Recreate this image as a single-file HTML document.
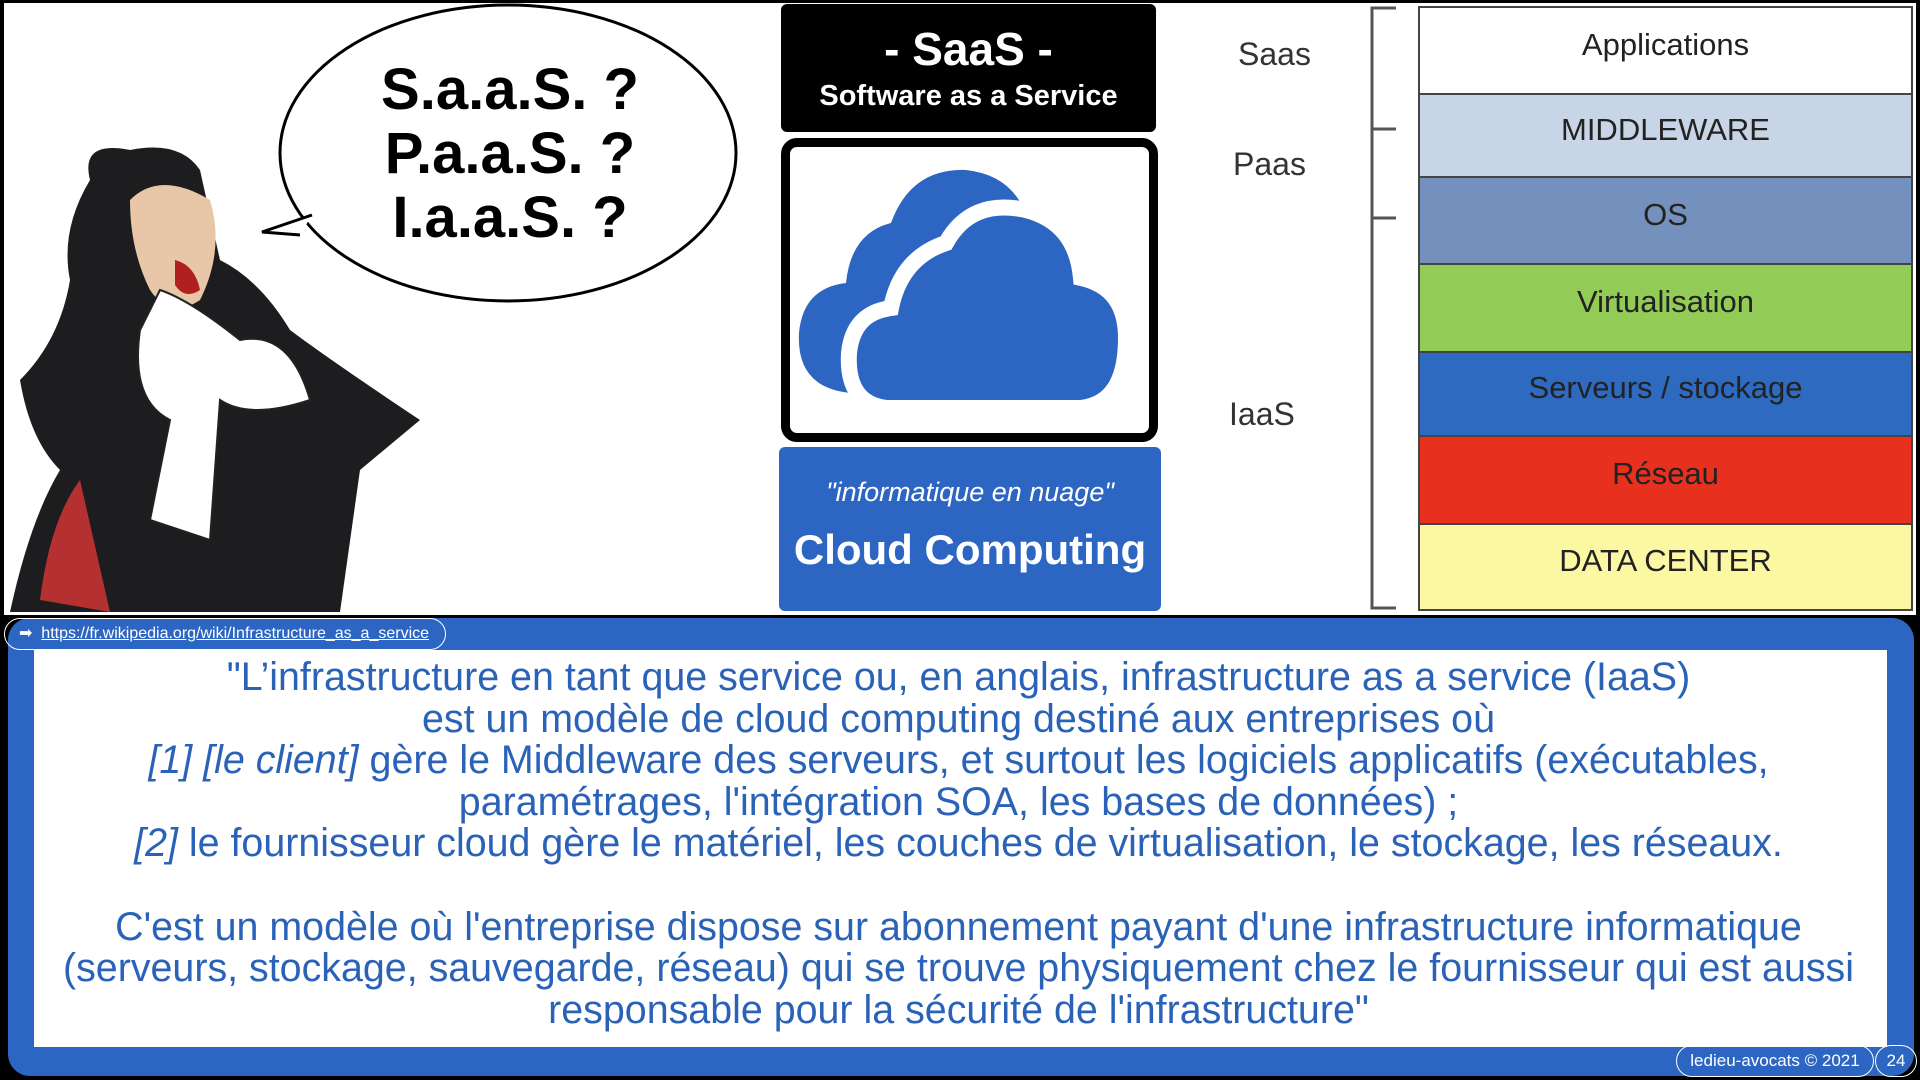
<!DOCTYPE html>
<html><head><meta charset="utf-8"><style>
body{margin:0;width:1920px;height:1080px;overflow:hidden;background:#000;font-family:"Liberation Sans",sans-serif;position:relative}
.a{position:absolute}
.row{position:absolute;left:1418px;width:495px;border:2px solid #444;box-sizing:border-box;font-size:31px;color:#222;display:flex;align-items:center;justify-content:center;white-space:nowrap}
.row span{position:relative;top:-6px}
.lab{position:absolute;font-size:32px;color:#333}
.txt{position:absolute;left:30px;width:1857px;top:657px;text-align:center;color:#2a62b8;font-size:39.4px;line-height:41.6px;white-space:nowrap}
</style></head><body>
<div class="a" style="left:4px;top:3px;width:1912px;height:612px;background:#fff"></div>
<svg class="a" style="left:0;top:0" width="780" height="615">
<ellipse cx="508" cy="153" rx="228" ry="148" fill="#fff" stroke="#000" stroke-width="3"/>
<path d="M300 235 L262 232 L312 215" fill="#fff" stroke="#000" stroke-width="3"/>
<path d="M90 180 Q80 140 130 150 Q180 140 200 170 L220 260 Q260 280 290 330 Q330 360 420 420 L360 470 L340 612 L10 612 Q30 520 60 470 Q30 440 20 380 Q60 340 70 280 Q60 230 90 180Z" fill="#1d1d1f"/>
<path d="M130 200 Q160 170 210 200 Q225 250 200 300 Q170 320 150 290 Q130 250 130 200Z" fill="#e8c6a8"/>
<path d="M175 260 Q195 265 200 290 Q185 300 175 285Z" fill="#b02020"/>
<path d="M160 290 Q190 300 240 340 Q290 330 310 400 Q250 420 220 400 L210 540 L150 520 L170 420 Q130 400 140 330Z" fill="#fff" stroke="#222" stroke-width="2"/>
<path d="M40 600 Q50 520 80 480 L110 612Z" fill="#b53030"/>
</svg>
<div class="a" style="left:360px;top:58px;width:300px;text-align:center;font-size:58px;font-weight:bold;line-height:64px;color:#000;white-space:nowrap">S.a.a.S. ?<br>P.a.a.S. ?<br>I.a.a.S. ?</div>
<div class="a" style="left:781px;top:4px;width:375px;height:128px;background:#000;border-radius:6px;color:#fff;text-align:center;font-weight:bold;white-space:nowrap">
<div style="font-size:46px;margin-top:22px;line-height:46px">- SaaS -</div><div style="font-size:29px;margin-top:8px">Software as a Service</div></div>
<div class="a" style="left:781px;top:138px;width:377px;height:304px;box-sizing:border-box;border:9px solid #000;border-radius:16px;background:#fff"></div>
<svg class="a" style="left:781px;top:138px" width="377" height="304">
<path d="M70 255 Q15 250 18 195 Q22 150 65 145 Q70 95 110 85 Q130 30 185 32 Q240 38 250 95 Q260 140 230 130 Z" fill="#2d66c2"/>
<path d="M105 270 Q65 265 68 215 Q72 175 110 170 Q120 120 165 105 Q190 60 245 72 Q295 85 300 140 Q345 150 345 200 Q345 265 300 270 Z" fill="#2d66c2" stroke="#fff" stroke-width="16"/>
</svg>
<div class="a" style="left:779px;top:447px;width:382px;height:164px;background:#2d66c2;border-radius:6px;color:#fff;text-align:center;white-space:nowrap">
<div style="font-size:27px;font-style:italic;margin-top:30px">"informatique en nuage"</div>
<div style="font-size:42px;font-weight:bold;margin-top:18px">Cloud Computing</div></div>
<div class="lab" style="left:1238px;top:36px">Saas</div>
<div class="lab" style="left:1233px;top:146px">Paas</div>
<div class="lab" style="left:1229px;top:396px">IaaS</div>
<svg class="a" style="left:1360px;top:0" width="50" height="615">
<path d="M36 8 H12 V608 H36 M12 129 H36 M12 218 H36" fill="none" stroke="#555" stroke-width="3"/></svg>
<div class="row" style="top:6px;height:89px;background:#fff"><span>Applications</span></div>
<div class="row" style="top:93px;height:85px;background:#c8d5e6"><span>MIDDLEWARE</span></div>
<div class="row" style="top:176px;height:89px;background:#7490bd"><span>OS</span></div>
<div class="row" style="top:263px;height:90px;background:#92cb55"><span>Virtualisation</span></div>
<div class="row" style="top:351px;height:86px;background:#2d6ac0"><span>Serveurs / stockage</span></div>
<div class="row" style="top:435px;height:90px;background:#e8301f"><span>Réseau</span></div>
<div class="row" style="top:523px;height:88px;background:#fbf7a2"><span>DATA CENTER</span></div>
<div class="a" style="left:8px;top:618px;width:1906px;height:458px;background:#2d66c2;border-radius:22px"></div>
<div class="a" style="left:4px;top:618px;width:442px;height:32px;border:1.5px solid #fff;border-radius:16px;box-sizing:border-box;color:#fff;font-size:16px;line-height:29px;padding-left:14px;white-space:nowrap">➡ &nbsp;<u>https://fr.wikipedia.org/wiki/Infrastructure_as_a_service</u></div>
<div class="a" style="left:34px;top:650px;width:1853px;height:397px;background:#fff"></div>
<div class="txt">"L’infrastructure en tant que service ou, en anglais, infrastructure as a service (IaaS)<br>est un modèle de cloud computing destiné aux entreprises où<br><i>[1] [le client]</i> gère le Middleware des serveurs, et surtout les logiciels applicatifs (exécutables,<br>paramétrages, l'intégration SOA, les bases de données) ;<br><i>[2]</i> le fournisseur cloud gère le matériel, les couches de virtualisation, le stockage, les réseaux.<br><br>C'est un modèle où l'entreprise dispose sur abonnement payant d'une infrastructure informatique<br>(serveurs, stockage, sauvegarde, réseau) qui se trouve physiquement chez le fournisseur qui est aussi<br>responsable pour la sécurité de l'infrastructure"</div>
<div class="a" style="left:1676px;top:1045px;width:198px;height:32px;border:1.5px solid #fff;border-radius:16px;box-sizing:border-box;color:#fff;font-size:17px;text-align:center;line-height:29px;white-space:nowrap">ledieu-avocats © 2021</div>
<div class="a" style="left:1875px;top:1045px;width:42px;height:32px;border:1.5px solid #fff;border-radius:16px;box-sizing:border-box;color:#fff;font-size:17px;text-align:center;line-height:29px">24</div>
</body></html>
